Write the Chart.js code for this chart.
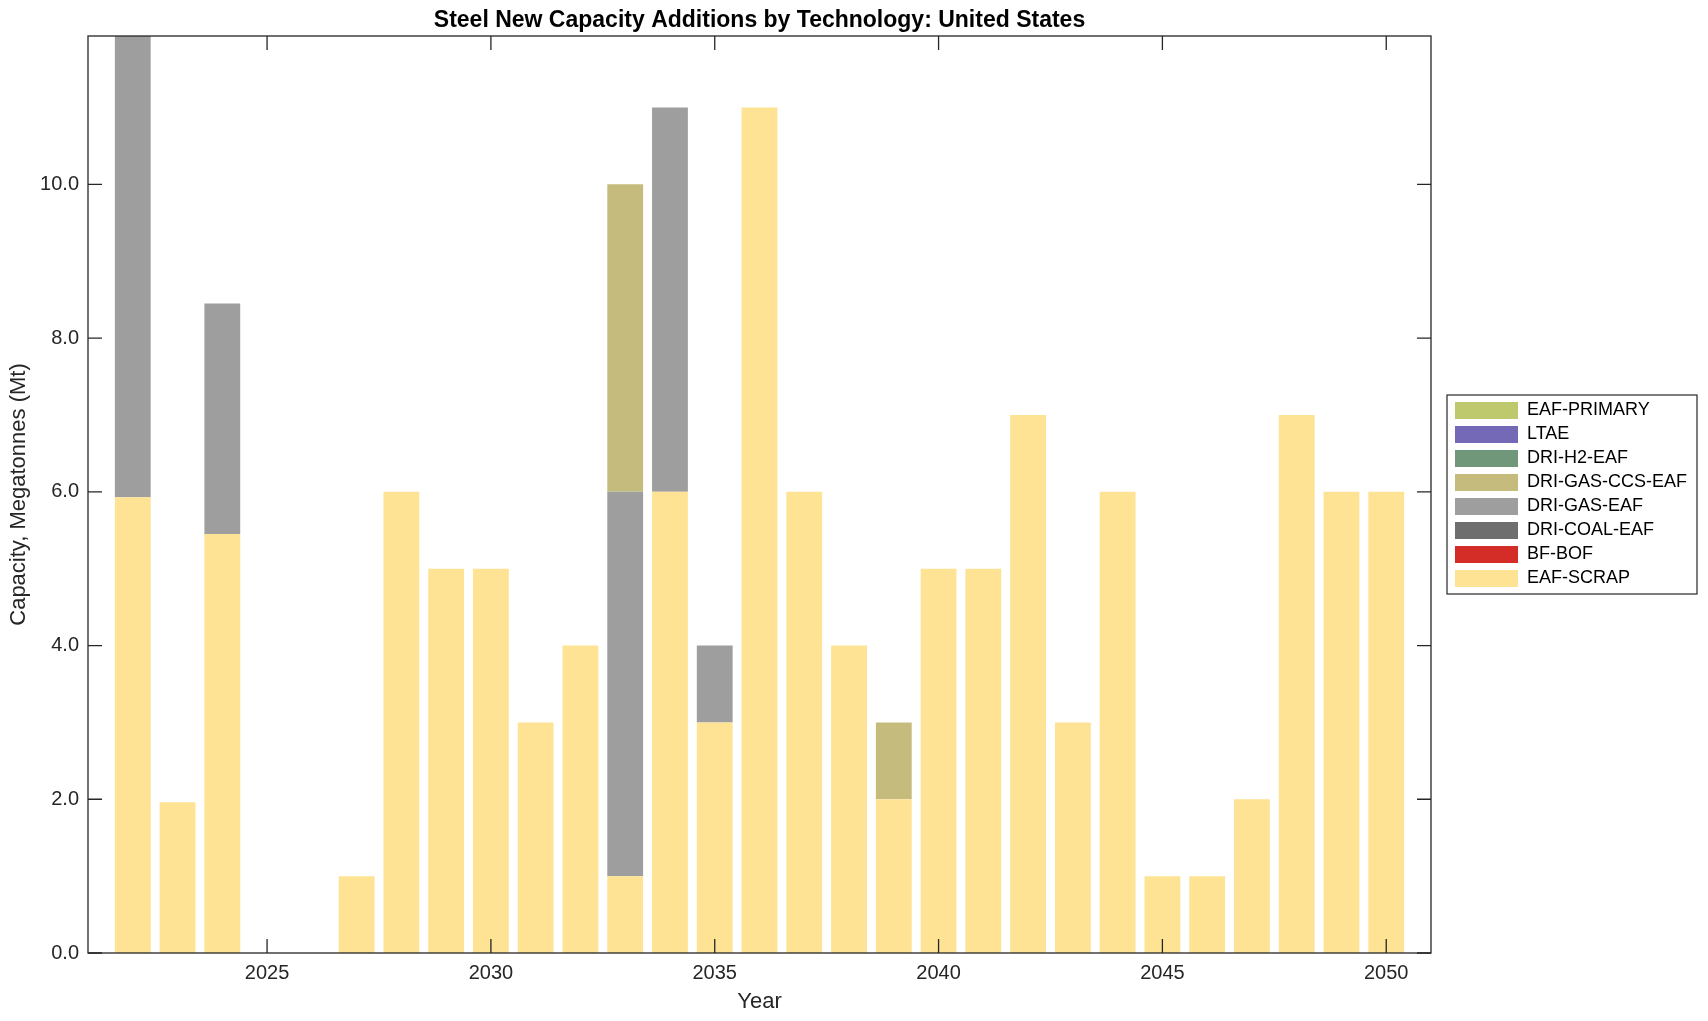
<!DOCTYPE html>
<html><head><meta charset="utf-8">
<script src="https://cdn.jsdelivr.net/npm/chart.js@4.4.1/dist/chart.umd.min.js"></script>
<style>html,body{margin:0;padding:0;background:#fff;overflow:hidden}canvas{display:block}</style>
</head><body>
<canvas id="c" width="1708" height="1021"></canvas>
<script>
// ---- data ----
const years = [2022,2023,2024,2025,2026,2027,2028,2029,2030,2031,2032,2033,2034,2035,2036,2037,2038,2039,2040,2041,2042,2043,2044,2045,2046,2047,2048,2049,2050];
const eafScrap     = [5.93,1.96,5.45,0,0,1,6,5,5,3,4,1,6,3,11,6,4,2,5,5,7,3,6,1,1,2,7,6,6];
const bfBof        = [0,0,0,0,0,0,0,0,0,0,0,0,0,0,0,0,0,0,0,0,0,0,0,0,0,0,0,0,0];
const driCoalEaf   = [0,0,0,0,0,0,0,0,0,0,0,0,0,0,0,0,0,0,0,0,0,0,0,0,0,0,0,0,0];
const driGasEaf    = [6.0,0,3.0,0,0,0,0,0,0,0,0,5,5,1,0,0,0,0,0,0,0,0,0,0,0,0,0,0,0];
const driGasCcsEaf = [0,0,0,0,0,0,0,0,0,0,0,4,0,0,0,0,0,1,0,0,0,0,0,0,0,0,0,0,0];
const driH2Eaf     = [0,0,0,0,0,0,0,0,0,0,0,0,0,0,0,0,0,0,0,0,0,0,0,0,0,0,0,0,0];
const ltae         = [0,0,0,0,0,0,0,0,0,0,0,0,0,0,0,0,0,0,0,0,0,0,0,0,0,0,0,0,0];
const eafPrimary   = [0,0,0,0,0,0,0,0,0,0,0,0,0,0,0,0,0,0,0,0,0,0,0,0,0,0,0,0,0];
const xTicks = [2025,2030,2035,2040,2045,2050];
const yTicks = [0,2,4,6,8,10];
const xMin = 2021, xMax = 2051, yMax = 11.93;

const FONT = '"Liberation Sans", Arial, Helvetica, sans-serif';
const series = [
  {label:'EAF-SCRAP',       data: eafScrap,     color:'#fee394'},
  {label:'BF-BOF',          data: bfBof,        color:'#d42c26'},
  {label:'DRI-COAL-EAF',    data: driCoalEaf,   color:'#6e6e6e'},
  {label:'DRI-GAS-EAF',     data: driGasEaf,    color:'#9e9e9e'},
  {label:'DRI-GAS-CCS-EAF', data: driGasCcsEaf, color:'#c5bb7d'},
  {label:'DRI-H2-EAF',      data: driH2Eaf,     color:'#71977b'},
  {label:'LTAE',            data: ltae,         color:'#7469b6'},
  {label:'EAF-PRIMARY',     data: eafPrimary,   color:'#bec86c'}
];

// measure widest legend label to place legend
const mctx = document.createElement('canvas').getContext('2d');
mctx.font = '18px ' + FONT;
const maxTextW = Math.max(...series.map(s => mctx.measureText(s.label).width));
const legendPad = 6, boxW = 63;
const legendW = legendPad + boxW + 9 + maxTextW + 10; // Chart.js adds 10 for vertical legends
const padRight = Math.max(0, 1708 - 1449 - legendW);

const framePlugin = {
  id: 'frame',
  beforeDraw(chart) {
    const c = chart.ctx; c.save(); c.fillStyle = '#fff'; c.fillRect(0,0,chart.width,chart.height); c.restore();
  },
  afterDraw(chart) {
    const {ctx, chartArea: a, scales} = chart;
    const x = scales.x, y = scales.y;
    ctx.save();
    ctx.strokeStyle = '#262626';
    ctx.lineWidth = 1.3;
    ctx.beginPath();
    x.ticks.forEach(t => {
      const px = x.getPixelForValue(t.value);
      ctx.moveTo(px, a.bottom); ctx.lineTo(px, a.bottom - 14);
      ctx.moveTo(px, a.top); ctx.lineTo(px, a.top + 14);
    });
    y.ticks.forEach(t => {
      const py = y.getPixelForValue(t.value);
      ctx.moveTo(a.left, py); ctx.lineTo(a.left + 14, py);
      ctx.moveTo(a.right, py); ctx.lineTo(a.right - 14, py);
    });
    ctx.stroke();
    ctx.strokeRect(a.left, a.top, a.right - a.left, a.bottom - a.top);
    const hb = chart.legend && chart.legend.legendHitBoxes;
    if (hb && hb.length) {
      const f = hb[0], l = hb[hb.length - 1];
      ctx.lineWidth = 1.2;
      ctx.strokeRect(f.left - 8, f.top - 6.5, 250, (l.top + l.height) - f.top + 13);
    }
    ctx.restore();
  }
};

new Chart(document.getElementById('c'), {
  type: 'bar',
  data: {
    datasets: series.map(s => ({
      label: s.label,
      data: years.map((yr, i) => ({x: yr, y: s.data[i]})),
      backgroundColor: s.color,
      borderWidth: 0,
      categoryPercentage: 1.0,
      barPercentage: 0.8
    }))
  },
  options: {
    responsive: false,
    animation: false,
    devicePixelRatio: 1,
    layout: {padding: {left: 0, right: padRight, top: 0, bottom: 0}},
    plugins: {
      title: {
        display: true,
        fullSize: false,
        text: 'Steel New Capacity Additions by Technology: United States',
        color: '#000',
        font: {family: FONT, size: 23, weight: 'bold', lineHeight: 1.2},
        padding: {top: 7, bottom: 1.4}
      },
      legend: {
        display: true,
        position: 'right',
        fullSize: false,
        reverse: true,
        labels: {
          boxWidth: boxW, boxHeight: 17, padding: legendPad,
          color: '#000',
          font: {family: FONT, size: 18}
        }
      },
      tooltip: {enabled: false}
    },
    scales: {
      x: {
        type: 'linear',
        stacked: true,
        offset: false,
        min: xMin, max: xMax,
        afterBuildTicks: s => { s.ticks = xTicks.map(v => ({value: v})); },
        afterFit: s => { s.height = 68; },
        grid: {display: false, drawTicks: false, offset: false},
        border: {display: false},
        ticks: {
          color: '#262626', padding: 8,
          font: {family: FONT, size: 20},
          maxRotation: 0, autoSkip: false,
          callback: v => String(v)
        },
        title: {
          display: true, text: 'Year', color: '#262626',
          font: {family: FONT, size: 22, lineHeight: 1.2},
          padding: {top: 0, bottom: 6}
        }
      },
      y: {
        type: 'linear',
        stacked: true,
        min: 0, max: yMax,
        afterBuildTicks: s => { s.ticks = yTicks.map(v => ({value: v})); },
        afterFit: s => { s.width = 88; },
        grid: {display: false, drawTicks: false},
        border: {display: false},
        ticks: {
          color: '#262626', padding: 9,
          font: {family: FONT, size: 20},
          callback: v => Number(v).toFixed(1)
        },
        title: {
          display: true, text: 'Capacity, Megatonnes (Mt)', color: '#262626',
          font: {family: FONT, size: 22, lineHeight: 1.2},
          padding: {top: 6, bottom: 0}
        }
      },
      gap: {
        type: 'linear',
        position: 'right',
        display: true,
        afterFit: s => { s.width = 18; },
        grid: {display: false, drawTicks: false},
        border: {display: false},
        ticks: {display: false}
      }
    }
  },
  plugins: [framePlugin]
});
</script>
</body></html>
